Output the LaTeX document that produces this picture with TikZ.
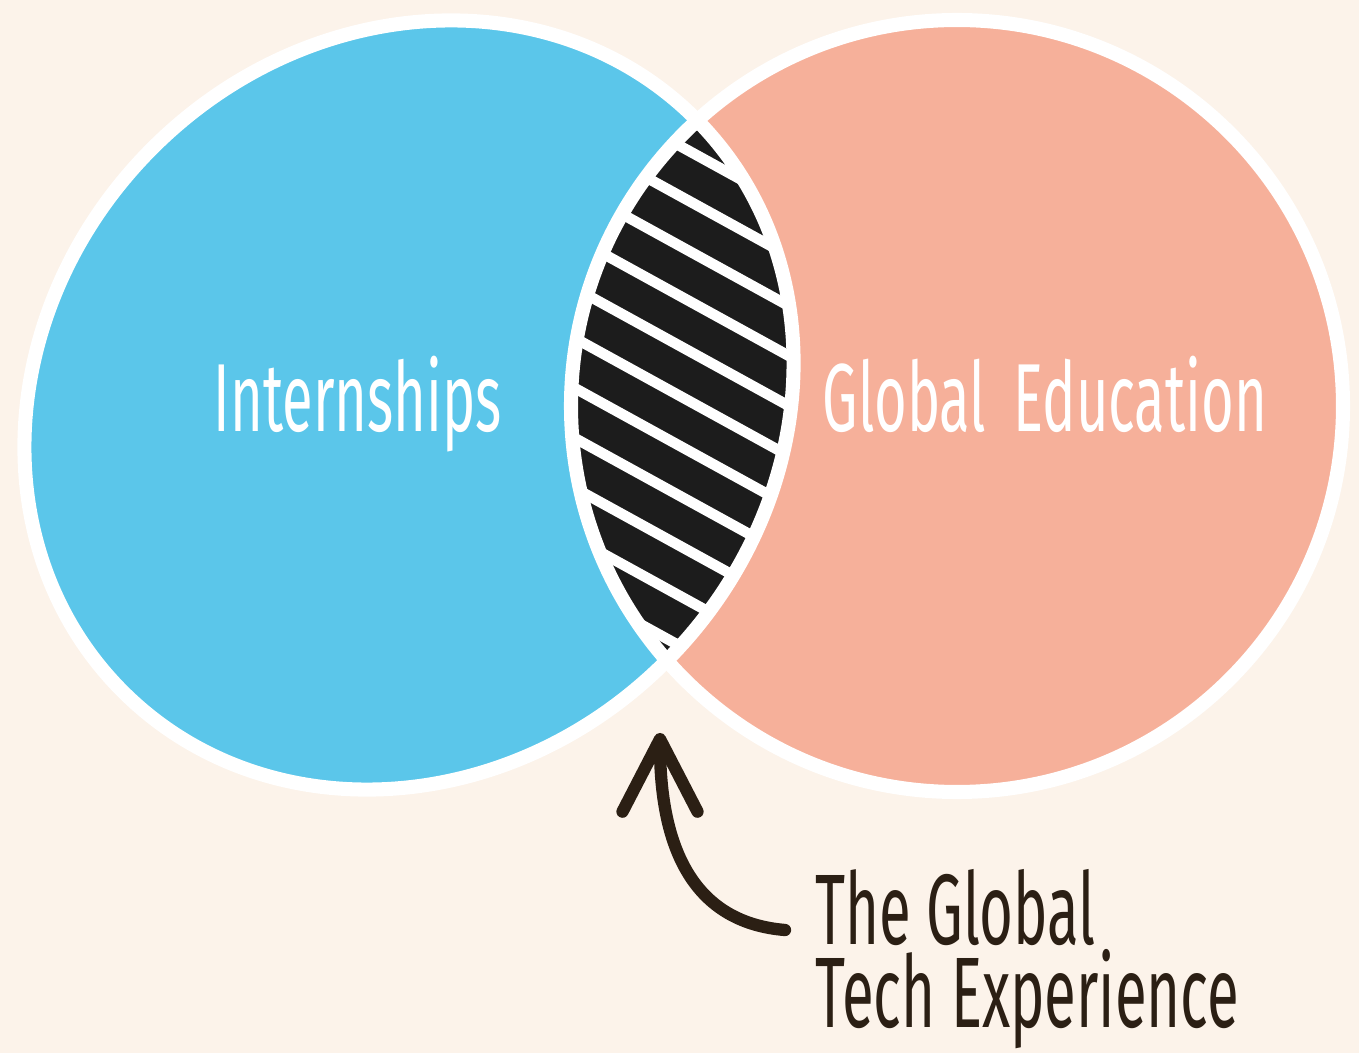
\documentclass[tikz,border=0pt]{standalone}
\usepackage{fontspec}
\usetikzlibrary{positioning, arrows.meta}
\newfontfamily\handfont[FakeStretch=0.58]{Fira Sans}
\definecolor{cream}{HTML}{FCF3EA}
\definecolor{skyblue}{HTML}{5BC6EA}
\definecolor{salmon}{HTML}{F6B09A}
\definecolor{lensblack}{HTML}{1C1C1C}
\definecolor{inkbrown}{HTML}{2B1F14}
\tikzset{
    leftring/.style={insert path={(8.18,12.96) circle [x radius=8.10, y radius=7.26, rotate=45]}},
    rightring/.style={insert path={(19.14,12.94) circle [radius=7.72]}},
    ring/.style={draw=white, line width=8pt},
    stripe/.style={draw=white, line width=6pt},
    circlabel/.style={font=\handfont\fontsize{55}{60}\selectfont, text=white, inner sep=0pt},
    tagtext/.style={font=\handfont\fontsize{57}{46.7}\selectfont, text=inkbrown, inner sep=0pt, align=left},
    pointer/.style={draw=inkbrown, line width=7pt, line cap=round, -{Straight Barb[round, length=1.45cm, width=1.5cm]}}
}
\begin{document}
\begin{tikzpicture}
    \fill[cream] (0,0) rectangle (27.18,21.06);
    \useasboundingbox (0,0) rectangle (27.18,21.06);

    \fill[skyblue, leftring];
    \fill[salmon, rightring];
    \begin{scope}
        \clip[leftring];
        \clip[rightring];
        \fill[lensblack] (10,6) rectangle (17,20);
        \foreach \k in {0,...,14}
            \draw[stripe] (11,7.57+1.0*\k) -- ++(5.5,-3.025);
    \end{scope}
    \draw[ring, leftring];
    \draw[ring, rightring];

    \node[circlabel, anchor=base] (Intern) at (7.16,12.42) {Internships};
    \node[circlabel, anchor=base] (GlobEd) at (20.9,12.42) {Global\hspace{0.25cm} Education};

    % base anchor sits on the last line
    \node[tagtext, anchor=base west] (Tag) at (16.3,0.52) {The Global\\Tech Experience};

    \coordinate (Tail) at ([xshift=-0.6cm, yshift=1.94cm]Tag.base west);
    \coordinate (Tip) at (13.2,6.4);
    \draw[pointer] (Tail) .. controls (14.0,2.6) and (13.2,3.9) .. (Tip);
\end{tikzpicture}
\end{document}
